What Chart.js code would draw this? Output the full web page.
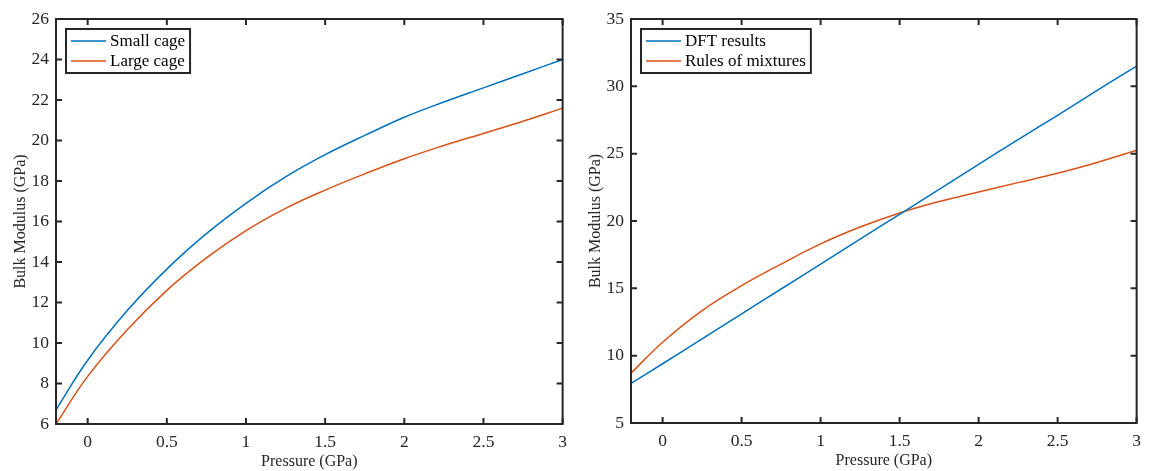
<!DOCTYPE html>
<html>
<head>
<meta charset="utf-8">
<script src="https://cdn.jsdelivr.net/npm/chart.js@4/dist/chart.umd.min.js"></script>
<style>
    html, body { margin: 0; padding: 0; background: #fff; }
    #wrap { position: relative; width: 1149px; height: 471px; }
    canvas { position: absolute; top: 0; }
</style>
</head>
<body>
<div id="wrap">
    <canvas id="cageChart" width="575" height="471" style="left:0"></canvas>
    <canvas id="mixChart" width="574" height="471" style="left:575px"></canvas>
</div>
<script>
// Pressure samples (GPa), shared by both panels
const pressure = [-0.2, 0, 0.25, 0.5, 0.75, 1, 1.25, 1.5, 1.75, 2, 2.25, 2.5, 2.75, 3];

// Left panel: bulk modulus of the two cage types (GPa)
const smallCage = [6.7, 9.15, 11.6, 13.65, 15.4, 16.9, 18.2, 19.3, 20.25, 21.15, 21.9, 22.6, 23.3, 24.0];
const largeCage = [6.0, 8.35, 10.65, 12.6, 14.2, 15.55, 16.65, 17.55, 18.35, 19.1, 19.75, 20.35, 20.95, 21.6];

// Right panel: DFT vs rules of mixtures (GPa)
const dftResults = [7.95, 9.4, 11.25, 13.1, 14.95, 16.8, 18.65, 20.5, 22.35, 24.2, 26.05, 27.85, 29.7, 31.5];
const ruleMixtures = [8.7, 11.0, 13.35, 15.2, 16.8, 18.3, 19.55, 20.6, 21.45, 22.15, 22.85, 23.55, 24.35, 25.25];

// Tick labels
const xTicks = [0, 0.5, 1, 1.5, 2, 2.5, 3];
const leftYTicks = [6, 8, 10, 12, 14, 16, 18, 20, 22, 24, 26];
const rightYTicks = [5, 10, 15, 20, 25, 30, 35];

const BLUE = '#0072BD';
const ORANGE = '#D95319';
const INK = '#262626';
const SERIF = "'Liberation Serif', 'Times New Roman', serif";

function toPoints(ys) {
    return pressure.map((p, i) => ({ x: p, y: ys[i] }));
}

function series(label, ys, color) {
    return {
        label: label,
        data: toPoints(ys),
        borderColor: color,
        backgroundColor: color,
        borderWidth: 1.5,
        pointRadius: 0,
        tension: 0.4
    };
}

// Box around the axes with inward tick marks on all four sides
const boxPlugin = {
    id: 'box',
    afterDatasetsDraw(chart) {
        const { ctx, chartArea: a, scales } = chart;
        const len = 6;
        ctx.save();
        ctx.strokeStyle = INK;
        ctx.lineWidth = 2;
        ctx.beginPath();
        scales.x.ticks.forEach(t => {
            const px = scales.x.getPixelForValue(t.value);
            ctx.moveTo(px, a.bottom); ctx.lineTo(px, a.bottom - len);
            ctx.moveTo(px, a.top); ctx.lineTo(px, a.top + len);
        });
        scales.y.ticks.forEach(t => {
            const py = scales.y.getPixelForValue(t.value);
            ctx.moveTo(a.left, py); ctx.lineTo(a.left + len, py);
            ctx.moveTo(a.right, py); ctx.lineTo(a.right - len, py);
        });
        ctx.stroke();
        ctx.strokeRect(a.left, a.top, a.right - a.left, a.bottom - a.top);
        ctx.restore();
    }
};

// Framed legend in the upper-left corner of the plot
const boxLegendPlugin = {
    id: 'boxLegend',
    afterDraw(chart) {
        const { ctx, chartArea: a } = chart;
        const sets = chart.data.datasets;
        const x0 = a.left + 10, y0 = a.top + 10;
        const rowH = 20;
        ctx.save();
        ctx.font = '17px ' + SERIF;
        let textW = 0;
        sets.forEach(ds => { textW = Math.max(textW, ctx.measureText(ds.label).width); });
        const w = 44 + textW + 5;
        const h = rowH * sets.length + 4;
        ctx.fillStyle = '#fff';
        ctx.fillRect(x0, y0, w, h);
        ctx.strokeStyle = INK;
        ctx.lineWidth = 2;
        ctx.strokeRect(x0, y0, w, h);
        ctx.textBaseline = 'middle';
        sets.forEach((ds, i) => {
            const cy = y0 + 12 + i * rowH;
            ctx.strokeStyle = ds.borderColor;
            ctx.lineWidth = 1.5;
            ctx.beginPath();
            ctx.moveTo(x0 + 5, cy);
            ctx.lineTo(x0 + 40, cy);
            ctx.stroke();
            ctx.fillStyle = '#000';
            ctx.fillText(ds.label, x0 + 44, cy + 1);
        });
        ctx.restore();
    }
};

function makeChart(id, datasets, yMin, yMax, yTicks, pad) {
    const tickFont = { family: SERIF, size: 17.5 };
    const titleFont = { family: SERIF, size: 16 };
    return new Chart(document.getElementById(id), {
        type: 'line',
        data: { datasets: datasets },
        options: {
            responsive: false,
            animation: false,
            layout: { padding: pad },
            plugins: { legend: { display: false }, tooltip: { enabled: false } },
            scales: {
                x: {
                    type: 'linear',
                    min: -0.2,
                    max: 3,
                    afterBuildTicks: s => { s.ticks = xTicks.map(v => ({ value: v })); },
                    afterFit: s => { s.height = 47; },
                    grid: { display: false, drawTicks: false },
                    border: { display: false },
                    ticks: { font: tickFont, color: INK, padding: 8, maxRotation: 0, callback: v => String(v) },
                    title: { display: true, text: 'Pressure (GPa)', font: titleFont, color: INK, padding: { top: 0, bottom: 0 } }
                },
                y: {
                    type: 'linear',
                    min: yMin,
                    max: yMax,
                    afterBuildTicks: s => { s.ticks = yTicks.map(v => ({ value: v })); },
                    afterFit: s => { s.width = 56; },
                    grid: { display: false, drawTicks: false },
                    border: { display: false },
                    ticks: { font: tickFont, color: INK, padding: 7, callback: v => String(v) },
                    title: { display: true, text: 'Bulk Modulus (GPa)', font: titleFont, color: INK, padding: { top: 11, bottom: 0 } }
                }
            }
        },
        plugins: [boxPlugin, boxLegendPlugin]
    });
}

makeChart('cageChart',
    [series('Small cage', smallCage, BLUE), series('Large cage', largeCage, ORANGE)],
    6, 26, leftYTicks, { top: 19, right: 8, bottom: 0, left: 0 });

makeChart('mixChart',
    [series('DFT results', dftResults, BLUE), series('Rules of mixtures', ruleMixtures, ORANGE)],
    5, 35, rightYTicks, { top: 19, right: 6, bottom: 1, left: 0 });
</script>
</body>
</html>
